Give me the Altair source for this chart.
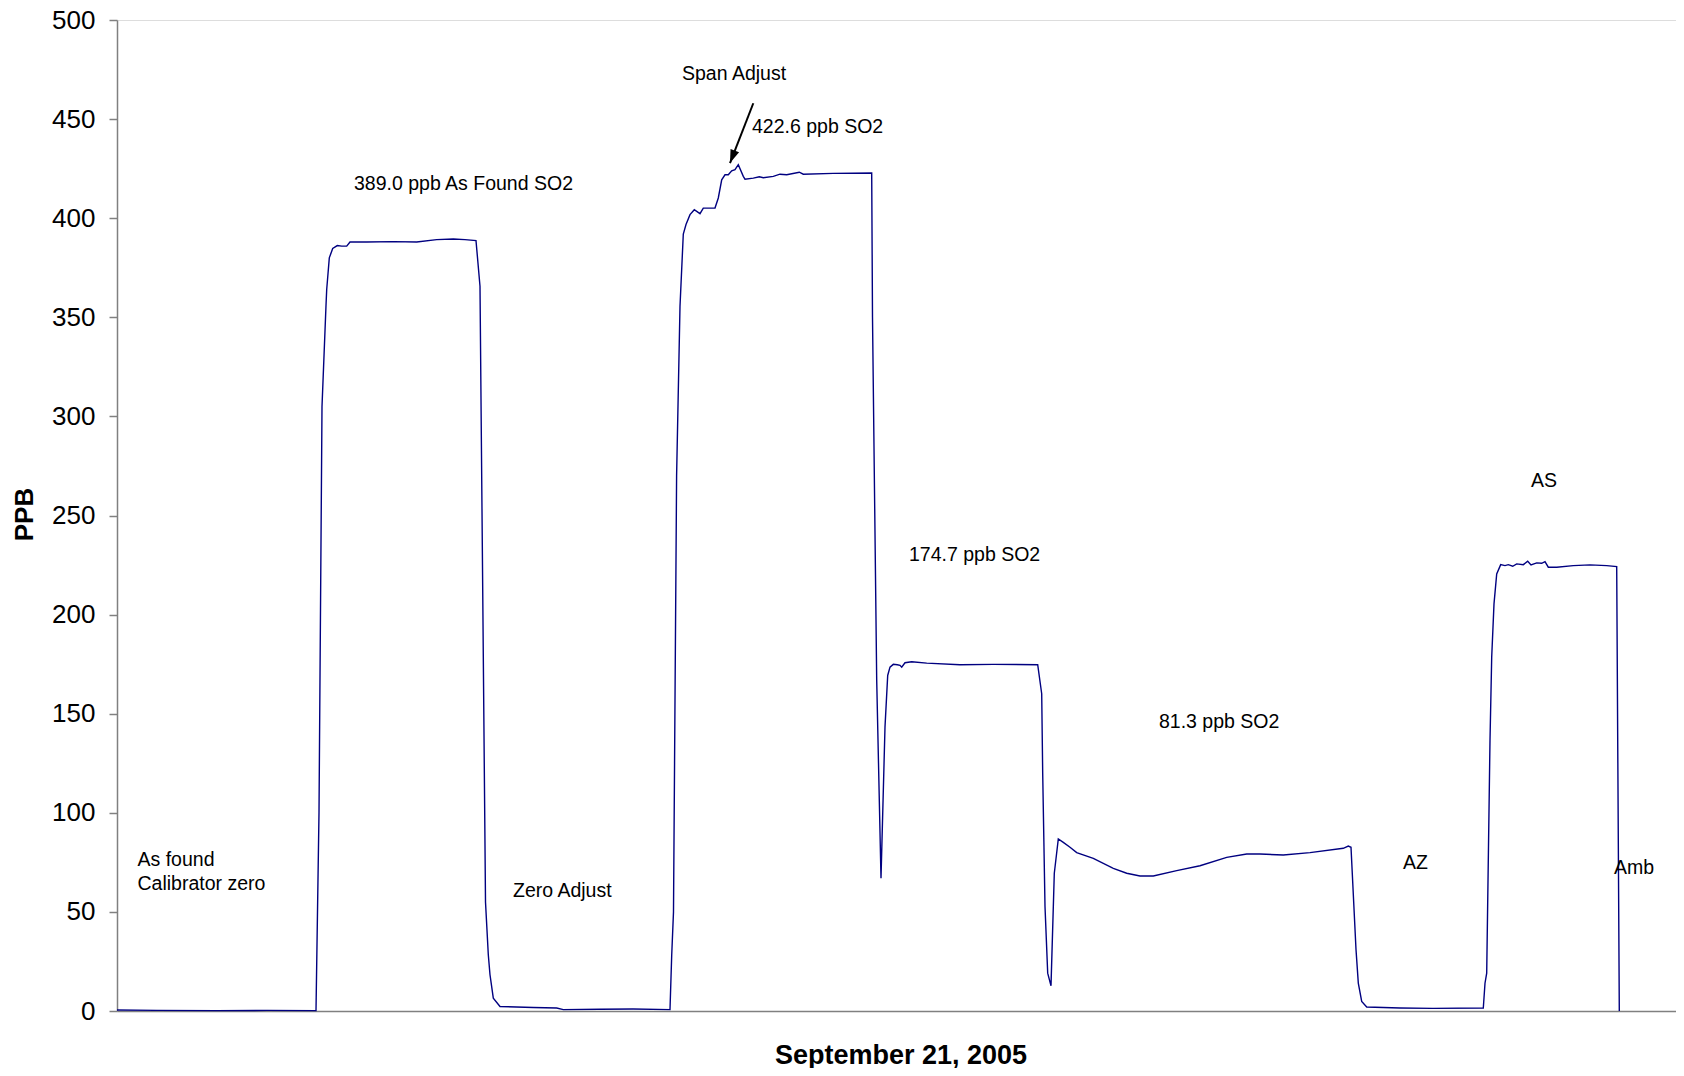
import altair as alt
import pandas as pd

# ---- data (time index t across the day, PPB values) ----
t_vals = [0, 40, 100, 150, 199, 202, 205, 209, 209.7, 212.3, 215.7, 220.3, 224.7, 229.7, 233,
          249.7, 276.3, 299.7, 319.7, 336.3, 348, 359,
          363, 368.5, 371.3, 373, 376.3, 383, 416.3, 439.7, 446.3, 483, 516, 553,
          554.7, 556.5, 559.6, 563, 566.3, 569, 573, 577.3, 583, 586.3, 598, 601.3, 604.7, 608,
          611.3, 614.7, 618, 621.3, 626.3, 628, 636.3, 642.3, 646.3, 656.3, 663, 669.7, 682.3,
          686.3, 716.3, 754.7,
          755.5, 759.7, 764,
          768, 770.7, 773, 776.3, 780.3, 783, 784.7, 788, 794.7, 809.7, 843, 876.3, 920.7,
          924.7, 925.7, 928, 930.7, 934,
          937.3, 941.3, 946.3, 953, 959.7, 976.3, 996.3, 1009.7, 1023, 1036.3, 1059.7, 1083,
          1109.7, 1129.7, 1143, 1166.3, 1193, 1226.3, 1231.3, 1234,
          1239, 1241.3, 1244.7, 1249.7, 1283, 1316, 1366.3,
          1368, 1369.7, 1373, 1374.7, 1377, 1379.7, 1383.7, 1388, 1391.3, 1395.7, 1399.7,
          1406.3, 1410.7, 1414, 1419.7, 1424.7, 1428, 1431.3, 1439.7, 1456.3, 1473, 1489.7,
          1499.7, 1502.3]
ppb_vals = [0.5, 0.3, 0.2, 0.3, 0.2, 100, 305, 356, 364, 380, 384.7, 386.2, 385.9, 385.9, 388,
            388, 388.2, 388, 389.2, 389.5, 389.2, 388.7,
            365.7, 55, 28.4, 18.3, 6.5, 2.3, 1.8, 1.5, 0.7, 0.9, 1.0, 0.7,
            28, 50, 270, 355.6, 392, 396.8, 401.8, 404.3, 402.3, 405.1, 405.1, 410.2, 419.4, 421.9,
            421.9, 423.9, 424.5, 427, 421.1, 419.7, 420.2, 420.9, 420.4, 421.1, 422.2, 421.9, 423.2,
            422.2, 422.6, 422.8,
            350, 167, 67,
            143.3, 169.3, 173.5, 174.9, 174.7, 174.4, 173.5, 175.7, 176.2, 175.5, 174.7, 174.9, 174.7,
            160.1, 119.8, 52.7, 19.1, 12.7,
            69.5, 86.8, 85.1, 82.6, 79.9, 77, 72, 69.5, 68.1, 68.1, 70.8, 73.3,
            77.5, 79.2, 79.2, 78.7, 79.9, 82.1, 83.2, 82.6,
            31, 14.1, 4.8, 2, 1.5, 1.3, 1.5,
            14, 19.1, 136.6, 178.5, 205.4, 220.5, 225.2, 224.7, 225.2, 224.4, 225.6,
            225.2, 226.9, 225.1, 226.1, 225.9, 226.7, 223.9, 223.9, 224.7, 225.1, 224.7,
            224.2, 0]

y_ticks = [0, 50, 100, 150, 200, 250, 300, 350, 400, 450, 500]

note_labels = ["389.0 ppb As Found SO2", "Span Adjust", "422.6 ppb SO2", "174.7 ppb SO2",
               "81.3 ppb SO2", "AZ", "AS", "Amb", "As found", "Calibrator zero", "Zero Adjust"]
note_t = [237, 565, 635, 792, 1042, 1286, 1414, 1497, 20.5, 20.5, 396]
note_v = [417.3, 473, 446, 230.3, 145.9, 74.5, 267.5, 72.3, 76.2, 64.1, 60.3]

arrow_t = [636.3, 613]   # start, tip
arrow_v = [458.0, 427.8]

FONT = "Liberation Sans"
T_MAX = 1559

line_df = pd.DataFrame({"t": t_vals, "ppb": ppb_vals})
notes_df = pd.DataFrame({"label": note_labels, "t": note_t, "v": note_v})
arrow_df = pd.DataFrame({"t1": [arrow_t[0]], "v1": [arrow_v[0]], "t2": [arrow_t[1]], "v2": [arrow_v[1]]})
head_df = pd.DataFrame({"t": [arrow_t[1]], "v": [arrow_v[1]]})

x_scale = alt.Scale(domain=[0, T_MAX], nice=False, zero=False)
y_scale = alt.Scale(domain=[0, 500], nice=False)

line = alt.Chart(line_df).mark_line(color="#000080", strokeWidth=1.4).encode(
    x=alt.X("t:Q", scale=x_scale,
            axis=alt.Axis(title="September 21, 2005", labels=False, ticks=False, grid=False,
                          domainColor="#808080", domainWidth=1.5,
                          titleFont=FONT, titleFontSize=27, titleFontWeight="bold",
                          titleColor="black", titlePadding=31, titleX=783.5)),
    y=alt.Y("ppb:Q", scale=y_scale,
            axis=alt.Axis(title="PPB", values=y_ticks, grid=False, tickSize=8,
                          domainColor="#808080", tickColor="#808080", domainWidth=1.5, tickWidth=1.5,
                          labelFont=FONT, labelFontSize=26, labelColor="black", labelPadding=14,
                          titleFont=FONT, titleFontSize=26, titleFontWeight="bold", titleColor="black",
                          titleAngle=270, titleBaseline="middle", titleX=-93, titleY=494)),
)

notes = alt.Chart(notes_df).mark_text(align="left", baseline="middle", font=FONT, fontSize=19.5,
                                      color="black").encode(
    x=alt.X("t:Q", scale=x_scale), y=alt.Y("v:Q", scale=y_scale), text="label:N")

arrow = alt.Chart(arrow_df).mark_rule(color="black", strokeWidth=2).encode(
    x=alt.X("t1:Q", scale=x_scale), y=alt.Y("v1:Q", scale=y_scale), x2="t2:Q", y2="v2:Q")

head = alt.Chart(head_df).mark_point(shape="M0,0 L0.34,1 L-0.34,1 Z", filled=True, opacity=1,
                                      color="black", size=720, angle=201).encode(
    x=alt.X("t:Q", scale=x_scale), y=alt.Y("v:Q", scale=y_scale))

chart = alt.layer(line, notes, arrow, head).properties(
    width=1559, height=991,
    autosize=alt.AutoSizeParams(type="none"),
    padding={"left": 109, "top": 12, "right": 0, "bottom": 57},
).configure_view(stroke="#808080", strokeWidth=1.5).configure(background="white")

chart.save("out.html", embed_options={"renderer": "svg", "actions": False})
